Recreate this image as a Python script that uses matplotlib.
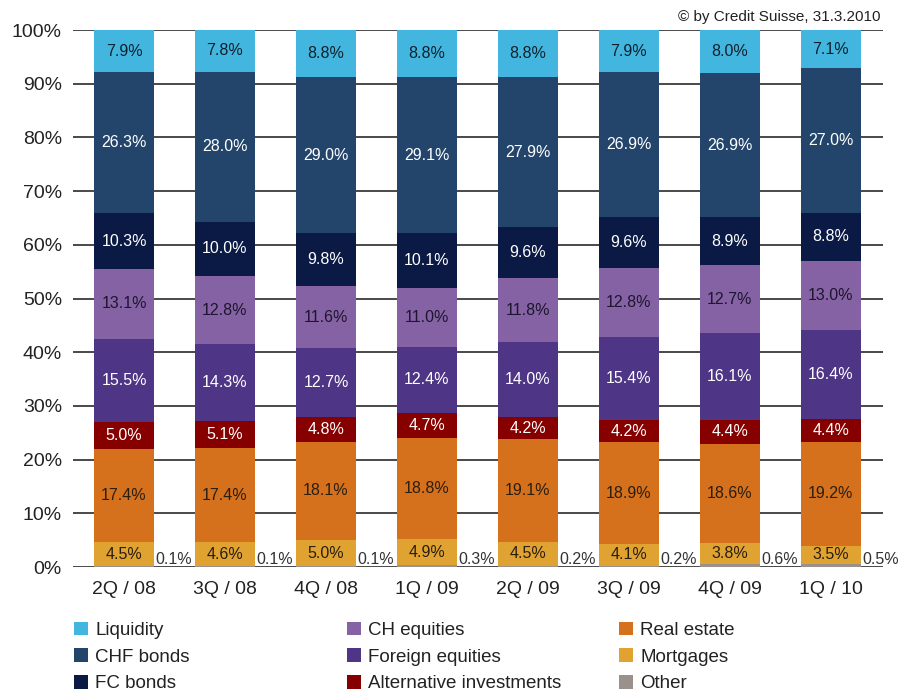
import matplotlib
matplotlib.use("Agg")
import matplotlib.pyplot as plt
from matplotlib.patches import Patch
import numpy as np

plt.rcParams['font.family'] = ['Liberation Sans', 'DejaVu Sans']

quarters = ["2Q / 08", "3Q / 08", "4Q / 08", "1Q / 09", "2Q / 09", "3Q / 09", "4Q / 09", "1Q / 10"]

other = [0.1, 0.1, 0.1, 0.3, 0.2, 0.2, 0.6, 0.5]
mortgages = [4.5, 4.6, 5.0, 4.9, 4.5, 4.1, 3.8, 3.5]
real_estate = [17.4, 17.4, 18.1, 18.8, 19.1, 18.9, 18.6, 19.2]
alternative = [5.0, 5.1, 4.8, 4.7, 4.2, 4.2, 4.4, 4.4]
foreign_eq = [15.5, 14.3, 12.7, 12.4, 14.0, 15.4, 16.1, 16.4]
ch_eq = [13.1, 12.8, 11.6, 11.0, 11.8, 12.8, 12.7, 13.0]
fc_bonds = [10.3, 10.0, 9.8, 10.1, 9.6, 9.6, 8.9, 8.8]
chf_bonds = [26.3, 28.0, 29.0, 29.1, 27.9, 26.9, 26.9, 27.0]
liquidity = [7.9, 7.8, 8.8, 8.8, 8.8, 7.9, 8.0, 7.1]

# bottom -> top
series = [
    ("Other", other, "#9b918c", None),
    ("Mortgages", mortgages, "#e0a331", "#2a1e10"),
    ("Real estate", real_estate, "#d5701c", "#2a1e10"),
    ("Alternative investments", alternative, "#870000", "white"),
    ("Foreign equities", foreign_eq, "#4e3585", "white"),
    ("CH equities", ch_eq, "#8562a3", "#1e1530"),
    ("FC bonds", fc_bonds, "#0b1a45", "white"),
    ("CHF bonds", chf_bonds, "#23456b", "white"),
    ("Liquidity", liquidity, "#42b6df", "#10202a"),
]

fig = plt.figure(figsize=(9.14, 6.93), dpi=100)
ax = fig.add_axes([0.0799, 0.1818, 0.886, 0.7749])

x = np.arange(len(quarters))
width = 0.6
totals = np.sum([np.array(s[1]) for s in series], axis=0)
bottom = np.zeros(len(quarters))

for name, vals, col, tcol in series:
    v = np.array(vals, dtype=float)
    h = v / totals * 100.0
    ax.bar(x, h, width, bottom=bottom, color=col, zorder=3, linewidth=0)
    for i in range(len(x)):
        if tcol is None:
            ax.text(x[i] + width / 2 + 0.01, 1.4, f"{vals[i]:.1f}%", ha="left", va="center",
                    fontsize=11.5, color="#333333", clip_on=False, zorder=4)
        else:
            ax.text(x[i], bottom[i] + h[i] / 2, f"{vals[i]:.1f}%", ha="center", va="center",
                    fontsize=11.5, color=tcol, zorder=4)
    bottom = bottom + h

ax.set_xlim(-0.505, 7.515)
ax.set_ylim(0, 100)
ax.set_yticks(np.arange(0, 101, 10))
ax.set_yticklabels([f"{t}%" for t in range(0, 101, 10)], fontsize=14, color="#222222")
ax.set_xticks(x)
ax.set_xticklabels(quarters, fontsize=14, color="#222222")
ax.tick_params(axis="both", length=0)
ax.tick_params(axis="y", pad=8)
ax.tick_params(axis="x", pad=10)
ax.yaxis.grid(True, color="#3a3a3a", linewidth=1.3, zorder=1)
for s in ax.spines.values():
    s.set_visible(False)

fig.text(880 / 914, 1 - 17 / 693, "\u00a9 by Credit Suisse, 31.3.2010", ha="right", va="center",
         fontsize=11, color="#222222")

# legend: three columns
leg_items = [s for s in series[::-1]]
cols = [leg_items[0:3], leg_items[3:6], leg_items[6:9]]
xpos = [66 / 914, 339 / 914, 611 / 914]
for cx, items in zip(xpos, cols):
    handles = [Patch(facecolor=it[2], edgecolor="none") for it in items]
    labels = [it[0] for it in items]
    fig.legend(handles, labels, loc="upper left", bbox_to_anchor=(cx, 1 - 614 / 693),
               frameon=False, fontsize=13.5, handlelength=0.75, handleheight=0.75,
               handletextpad=0.4, labelspacing=0.5, borderaxespad=0, labelcolor="#222222")

fig.savefig("out.png", dpi=100)
